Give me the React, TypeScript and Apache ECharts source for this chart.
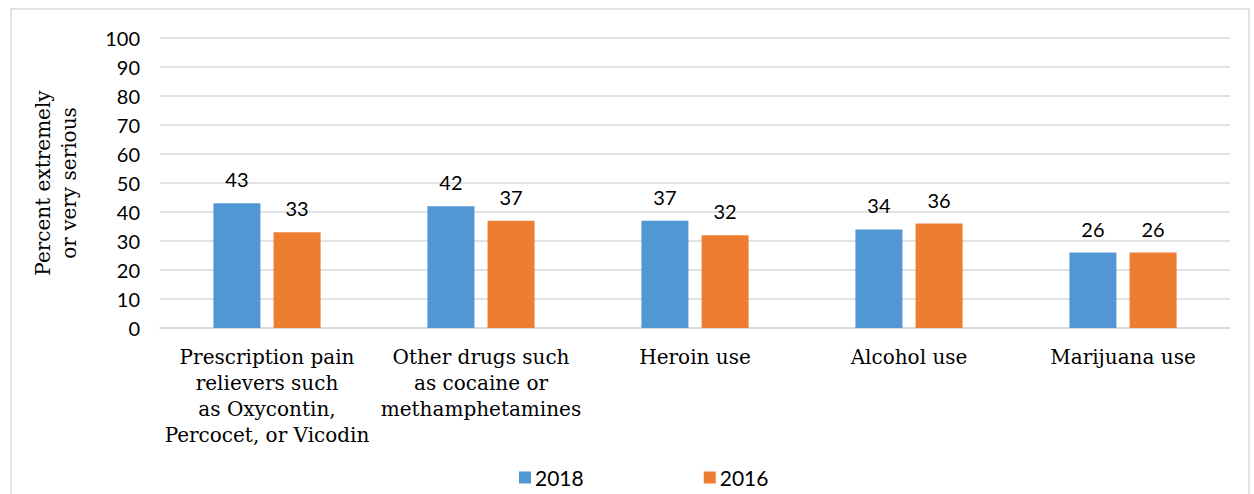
import React, { useEffect, useRef } from "react";
import * as echarts from "echarts";

const categories = [
  "Prescription pain\nrelievers such\nas Oxycontin,\nPercocet, or Vicodin",
  "Other drugs such\nas cocaine or\nmethamphetamines",
  "Heroin use",
  "Alcohol use",
  "Marijuana use",
];
const values2018 = [43, 42, 37, 34, 26];
const values2016 = [33, 37, 32, 36, 26];
const yTitle = "Percent extremely\nor very serious";

const SLAB = "'DejaVu Serif', serif";
const SANS = "Lato, 'Liberation Sans', sans-serif";

export default function App() {
  const ref = useRef<HTMLDivElement>(null);

  useEffect(() => {
    document.body.style.margin = "0";
    const chart = echarts.init(ref.current!, null, { renderer: "svg" });
    const label = {
      show: true,
      position: "top",
      distance: 14,
      color: "#000",
      fontFamily: SANS,
      fontSize: 20,
    };
    chart.setOption({
      animation: false,
      backgroundColor: "#fff",
      graphic: [
        {
          type: "rect",
          shape: { x: 11, y: 9, width: 1238, height: 500 },
          style: { fill: "none", stroke: "#D9D9D9", lineWidth: 1.5 },
          silent: true,
        },
      ],
      grid: { left: 160, right: 24, top: 38, bottom: 166 },
      legend: {
        left: 514,
        top: 462,
        itemWidth: 12,
        itemHeight: 12,
        itemGap: 120,
        icon: "rect",
        textStyle: { fontFamily: SANS, fontSize: 21, color: "#000", padding: [0, 0, 0, -1] },
        data: ["2018", "2016"],
      },
      xAxis: {
        type: "category",
        data: categories,
        axisLine: { show: true, lineStyle: { color: "#D9D9D9", width: 1.5 } },
        axisTick: { show: false },
        axisLabel: {
          interval: 0,
          margin: 16,
          color: "#000",
          fontFamily: SLAB,
          fontSize: 20,
          lineHeight: 26,
        },
      },
      yAxis: {
        type: "value",
        min: 0,
        max: 100,
        interval: 10,
        name: yTitle,
        nameLocation: "middle",
        nameRotate: 90,
        nameGap: 78,
        nameTextStyle: { fontFamily: SLAB, fontSize: 20, color: "#000", lineHeight: 26 },
        axisLine: { show: false },
        axisTick: { show: false },
        axisLabel: { margin: 20, color: "#000", fontFamily: SANS, fontSize: 20 },
        splitLine: { lineStyle: { color: "#D9D9D9", width: 1.5 } },
      },
      series: [
        {
          name: "2018",
          type: "bar",
          data: values2018,
          barWidth: 47,
          barGap: "28%",
          itemStyle: { color: "#5097D3" },
          label,
        },
        {
          name: "2016",
          type: "bar",
          data: values2016,
          barWidth: 47,
          itemStyle: { color: "#ED7D31" },
          label,
        },
      ],
    });
    return () => chart.dispose();
  }, []);

  return <div ref={ref} style={{ width: 1254, height: 494 }} />;
}
